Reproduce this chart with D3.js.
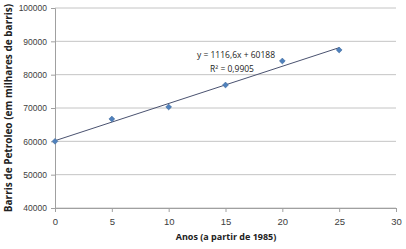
<!DOCTYPE html>
<html>
<head>
<meta charset="utf-8">
<script src="https://cdn.jsdelivr.net/npm/d3@7"></script>
<style>
  body { margin: 0; background: #fff; }
  svg { font-family: "Open Sans", "Liberation Sans", sans-serif; }
</style>
</head>
<body>
<svg id="chart"></svg>
<script>
const anos = [0, 5, 10, 15, 20, 25];
const barris = [60000, 66700, 70300, 76900, 84100, 87400];
const xTicks = [0, 5, 10, 15, 20, 25, 30];
const yTicks = [40000, 50000, 60000, 70000, 80000, 90000, 100000];
const slope = 1116.6;
const intercept = 60188;
const eqLabel = 'y = 1116,6x + 60188';
const r2Label = 'R² = 0,9905';

const width = 406;
const height = 249;
const margin = { top: 8, right: 10, bottom: 41, left: 55 };

const svg = d3.select('#chart')
  .attr('width', width)
  .attr('height', height);

const x = d3.scaleLinear()
  .domain([0, 30])
  .range([margin.left, width - margin.right]);

const y = d3.scaleLinear()
  .domain([40000, 100000])
  .range([height - margin.bottom, margin.top]);

// gridlines
svg.append('g')
  .selectAll('line')
  .data(yTicks)
  .enter()
  .append('line')
  .attr('x1', margin.left)
  .attr('x2', width - margin.right)
  .attr('y1', d => y(d))
  .attr('y2', d => y(d))
  .attr('stroke', '#c4c4c4')
  .attr('stroke-width', 1);

// y axis
const yAxis = svg.append('g')
  .attr('transform', `translate(${margin.left},0)`)
  .call(d3.axisLeft(y).tickValues(yTicks).tickFormat(d3.format('d')).tickSize(4));
yAxis.select('.domain').attr('stroke', '#a0a0a0');
yAxis.selectAll('.tick line').attr('stroke', '#a0a0a0');
yAxis.selectAll('text').attr('fill', '#404040').style('font-size', '8.5px').attr('dx', '-1');

// x axis
const xAxis = svg.append('g')
  .attr('transform', `translate(0,${height - margin.bottom})`)
  .call(d3.axisBottom(x).tickValues(xTicks).tickSize(4));
xAxis.select('.domain').attr('stroke', '#a0a0a0');
xAxis.selectAll('.tick line').attr('stroke', '#a0a0a0');
xAxis.selectAll('text').attr('fill', '#404040').style('font-size', '9.5px').attr('dy', '1.1em');

// trendline
svg.append('line')
  .attr('x1', x(0))
  .attr('y1', y(intercept))
  .attr('x2', x(25))
  .attr('y2', y(intercept + slope * 25))
  .attr('stroke', '#4a5270')
  .attr('stroke-width', 1);

// markers
svg.append('g')
  .selectAll('path')
  .data(anos.map((a, i) => [a, barris[i]]))
  .enter()
  .append('path')
  .attr('transform', d => `translate(${x(d[0])},${y(d[1])})`)
  .attr('d', d3.symbol().type(d3.symbolDiamond2).size(22))
  .attr('fill', '#4f81bd')
  .attr('stroke', '#3a6595')
  .attr('stroke-width', 0.5);

// equation
svg.append('text')
  .attr('x', 236)
  .attr('y', 58)
  .attr('text-anchor', 'middle')
  .style('font-size', '8.5px')
  .attr('fill', '#222')
  .text(eqLabel);

svg.append('text')
  .attr('x', 232)
  .attr('y', 72)
  .attr('text-anchor', 'middle')
  .style('font-size', '8.5px')
  .attr('fill', '#222')
  .text(r2Label);

// axis titles
svg.append('text')
  .attr('x', 226)
  .attr('y', 240)
  .attr('text-anchor', 'middle')
  .style('font-size', '9px')
  .style('font-weight', 'bold')
  .attr('fill', '#222')
  .text('Anos (a partir de 1985)');

svg.append('text')
  .attr('transform', `translate(12,${(margin.top + height - margin.bottom) / 2}) rotate(-90)`)
  .attr('text-anchor', 'middle')
  .style('font-size', '10px')
  .style('font-weight', 'bold')
  .attr('fill', '#222')
  .text('Barris de Petroleo (em milhares de barris)');
</script>
</body>
</html>
